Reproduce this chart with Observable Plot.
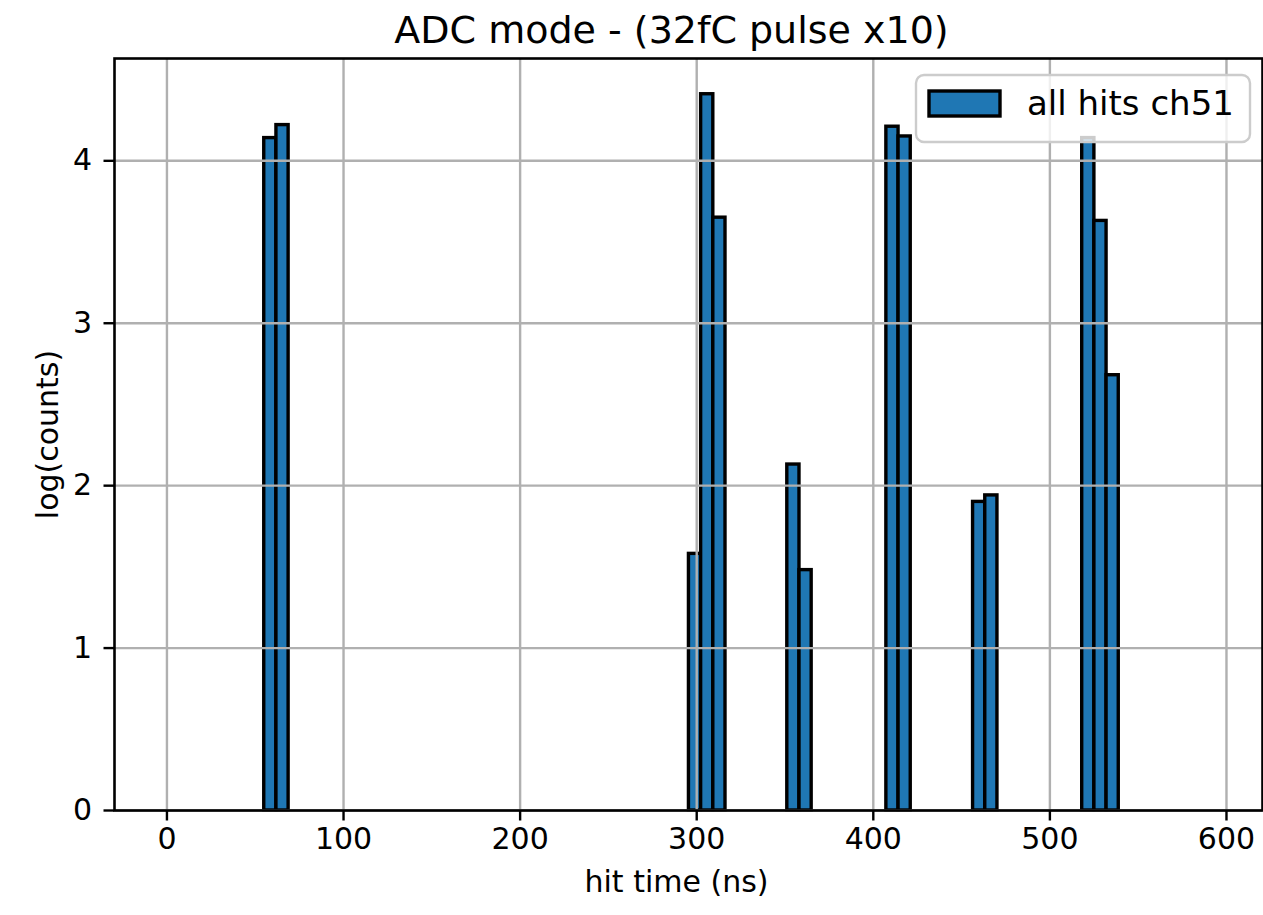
<!DOCTYPE html>
<html>
<head>
<meta charset="utf-8">
<script src="https://cdn.jsdelivr.net/npm/d3@7"></script>
<script src="https://cdn.jsdelivr.net/npm/@observablehq/plot@0.6"></script>
<style>
  html, body { margin: 0; padding: 0; background: white; }
  #chart svg { display: block; }
</style>
</head>
<body>
<div id="chart"></div>
<script>
// ---- data ----
const titleText = "ADC mode - (32fC pulse x10)";
const xLabel = "hit time (ns)";
const yLabel = "log(counts)";
const seriesName = "all hits ch51";
const binLeft = [55.1, 62.0, 295.6, 302.5, 309.4, 351.3, 358.2, 407.4, 414.3, 456.5, 463.4, 518.3, 525.2, 532.1];
const binWidth = 6.9;
const logCounts = [4.14, 4.22, 1.58, 4.41, 3.65, 2.13, 1.48, 4.21, 4.15, 1.90, 1.94, 4.14, 3.63, 2.68];
const xTicks = [0, 100, 200, 300, 400, 500, 600];
const yTicks = [0, 1, 2, 3, 4];
const xDomain = [-29.7, 620.4];
const yDomain = [0, 4.63];

const barColor = "#1f77b4";
const gridColor = "#b0b0b0";
const font = "DejaVu Sans";

const bins = binLeft.map((x, i) => ({x1: x, x2: x + binWidth, y: logCounts[i]}));

const W = 1263, H = 915;
const mL = 114, mR = 1, mT = 58, mB = 105;

const chart = Plot.plot({
  width: W,
  height: H,
  marginLeft: mL,
  marginRight: mR,
  marginTop: mT,
  marginBottom: mB,
  style: {fontFamily: font, fontSize: "30px", color: "black", background: "white"},
  x: {domain: xDomain, axis: null},
  y: {domain: yDomain, axis: null},
  marks: [
    Plot.rectY(bins, {x1: "x1", x2: "x2", y1: 0, y2: "y", fill: barColor, stroke: "black", strokeWidth: 3.4, inset: 0}),
    Plot.gridX(xTicks, {stroke: gridColor, strokeOpacity: 1, strokeWidth: 2.4}),
    Plot.gridY(yTicks, {stroke: gridColor, strokeOpacity: 1, strokeWidth: 2.4}),
    Plot.frame({stroke: "black", strokeWidth: 2.6}),
    Plot.axisX(xTicks, {tickSize: 10.5, tickPadding: 7, strokeWidth: 2.4, fontSize: 30, label: null, tickFormat: d => String(d)}),
    Plot.axisY(yTicks, {tickSize: 10.5, tickPadding: 12, strokeWidth: 2.4, fontSize: 30, label: null, tickFormat: d => String(d)}),
    Plot.text([titleText], {text: d => d, frameAnchor: "top", dx: -17, dy: -28, fontSize: 38, lineAnchor: "middle", textAnchor: "middle", fill: "black"}),
    Plot.text([xLabel], {text: d => d, frameAnchor: "bottom", dx: -12, dy: 72, fontSize: 30, lineAnchor: "middle", textAnchor: "middle", fill: "black"}),
    Plot.text([yLabel], {text: d => d, frameAnchor: "left", dx: -66, dy: 0, rotate: -90, fontSize: 30, lineAnchor: "middle", textAnchor: "middle", fill: "black"})
  ]
});

document.getElementById("chart").appendChild(chart);

// legend (matplotlib style, upper right)
const svg = d3.select(chart);
const lg = svg.append("g").attr("class", "legend");
lg.append("rect")
  .attr("x", 916).attr("y", 75).attr("width", 334).attr("height", 67)
  .attr("rx", 8).attr("ry", 8)
  .attr("fill", "white").attr("fill-opacity", 0.8)
  .attr("stroke", "#cccccc").attr("stroke-width", 2.4);
lg.append("rect")
  .attr("x", 929).attr("y", 91).attr("width", 71).attr("height", 25)
  .attr("fill", barColor).attr("stroke", "black").attr("stroke-width", 3.4);
lg.append("text")
  .attr("x", 1027).attr("y", 115)
  .attr("text-anchor", "start")
  .attr("font-family", font).attr("font-size", 34).attr("fill", "black")
  .text(seriesName);
</script>
</body>
</html>
